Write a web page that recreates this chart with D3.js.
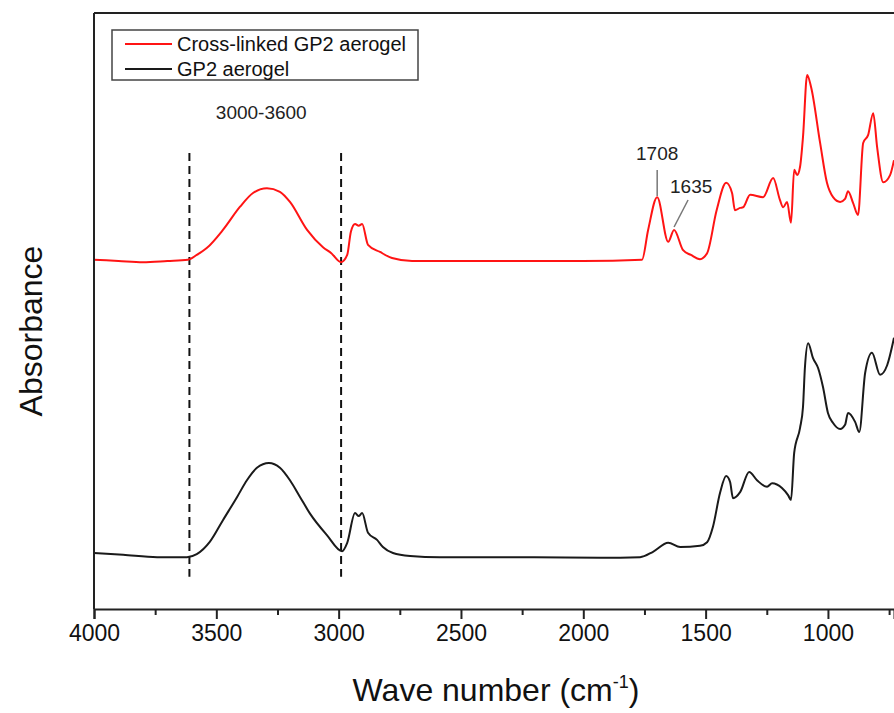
<!DOCTYPE html>
<html>
<head>
<meta charset="utf-8">
<script src="https://cdn.jsdelivr.net/npm/d3@7"></script>
<style>
  body { margin: 0; background: #fff; }
  svg { display: block; font-family: 'Liberation Sans', Arial, sans-serif; }
</style>
</head>
<body>
<div id="chart"></div>
<script>
// wavenumbers (cm-1) and absorbance (arbitrary, offset)
const crossWn = [4000, 3900, 3800, 3700, 3616, 3580, 3538, 3473, 3403, 3350, 3293, 3240, 3199, 3129, 3064, 3030, 2990, 2965, 2950, 2933, 2918, 2904, 2880, 2831, 2782, 2700, 2500, 2200, 2000, 1760, 1735, 1698, 1653, 1629, 1592, 1560, 1523, 1494, 1455, 1416, 1392, 1380, 1359, 1347, 1318, 1265, 1224, 1196, 1183, 1167, 1151, 1138, 1126, 1114, 1102, 1085, 1069, 1032, 1004, 979, 950, 930, 918, 897, 877, 856, 836, 815, 799, 774, 746, 730]
const crossAbs = [0.586, 0.584, 0.582, 0.584, 0.586, 0.594, 0.606, 0.636, 0.675, 0.698, 0.706, 0.700, 0.683, 0.636, 0.607, 0.597, 0.582, 0.594, 0.633, 0.646, 0.643, 0.646, 0.611, 0.599, 0.589, 0.584, 0.584, 0.584, 0.584, 0.586, 0.636, 0.691, 0.616, 0.636, 0.602, 0.594, 0.587, 0.597, 0.669, 0.715, 0.698, 0.669, 0.673, 0.674, 0.695, 0.691, 0.723, 0.686, 0.674, 0.683, 0.648, 0.737, 0.728, 0.742, 0.792, 0.896, 0.876, 0.782, 0.715, 0.691, 0.683, 0.688, 0.701, 0.681, 0.661, 0.782, 0.795, 0.832, 0.775, 0.716, 0.728, 0.753]

const plainWn = [4000, 3881, 3742, 3620, 3580, 3526, 3473, 3415, 3375, 3334, 3285, 3240, 3199, 3158, 3117, 3048, 2986, 2965, 2933, 2918, 2904, 2880, 2843, 2819, 2778, 2708, 2586, 2200, 1931, 1768, 1715, 1653, 1604, 1523, 1494, 1470, 1441, 1416, 1400, 1388, 1359, 1322, 1290, 1249, 1228, 1188, 1163, 1151, 1138, 1114, 1102, 1094, 1081, 1061, 1040, 1020, 1000, 979, 950, 930, 918, 889, 872, 848, 820, 787, 758, 730]
const plainAbs = [0.094, 0.091, 0.087, 0.087, 0.092, 0.113, 0.149, 0.188, 0.216, 0.237, 0.245, 0.237, 0.216, 0.188, 0.160, 0.124, 0.097, 0.111, 0.161, 0.156, 0.161, 0.128, 0.116, 0.104, 0.094, 0.089, 0.087, 0.087, 0.086, 0.087, 0.096, 0.111, 0.104, 0.106, 0.112, 0.138, 0.195, 0.223, 0.213, 0.186, 0.196, 0.230, 0.216, 0.205, 0.211, 0.203, 0.191, 0.183, 0.262, 0.304, 0.339, 0.406, 0.446, 0.421, 0.404, 0.372, 0.329, 0.312, 0.302, 0.309, 0.329, 0.314, 0.297, 0.396, 0.430, 0.393, 0.409, 0.455]

const seriesNames = ['Cross-linked GP2 aerogel', 'GP2 aerogel']
const seriesColors = ['#ff1414', '#1a1a1a']

const xTicks = [4000, 3500, 3000, 2500, 2000, 1500, 1000]
const xMinorTicks = [3750, 3250, 2750, 2250, 1750, 1250, 750]

const regionLines = [3610, 2990]
const regionLabel = '3000-3600'
const peakLabels = ['1708', '1635']
const peakWn = [1698, 1629]

const margin = { top: 13, right: 0, bottom: 104, left: 94 }
const width = 894 - margin.left - margin.right
const height = 713 - margin.top - margin.bottom

const svg = d3
  .select('#chart')
  .append('svg')
  .attr('width', 894)
  .attr('height', 713)

const g = svg
  .append('g')
  .attr('transform', `translate(${margin.left},${margin.top})`)

const xPositionScale = d3.scaleLinear().domain([4000, 730]).range([0, width])
const yPositionScale = d3.scaleLinear().domain([0, 1]).range([height, 0])

const line = d3
  .line()
  .x(d => xPositionScale(d[0]))
  .y(d => yPositionScale(d[1]))
  .curve(d3.curveMonotoneX)

const crossData = crossWn.map((w, i) => [w, crossAbs[i]])
const plainData = plainWn.map((w, i) => [w, plainAbs[i]])

// dashed guide lines
g.selectAll('.guide')
  .data(regionLines)
  .enter()
  .append('line')
  .attr('class', 'guide')
  .attr('x1', d => xPositionScale(d))
  .attr('x2', d => xPositionScale(d))
  .attr('y1', yPositionScale(0.765))
  .attr('y2', yPositionScale(0.054))
  .attr('stroke', '#111')
  .attr('stroke-width', 2)
  .attr('stroke-dasharray', '8,5')

g.append('text')
  .attr('x', xPositionScale(d3.mean(regionLines)) - 4)
  .attr('y', 106)
  .attr('text-anchor', 'middle')
  .attr('font-size', 19)
  .attr('fill', '#222')
  .text(regionLabel)

// spectra
g.append('path')
  .datum(plainData)
  .attr('d', line)
  .attr('fill', 'none')
  .attr('stroke', seriesColors[1])
  .attr('stroke-width', 2)

g.append('path')
  .datum(crossData)
  .attr('d', line)
  .attr('fill', 'none')
  .attr('stroke', seriesColors[0])
  .attr('stroke-width', 2)

// peak labels with leader lines
const px0 = xPositionScale(peakWn[0])
g.append('line')
  .attr('x1', px0).attr('x2', px0)
  .attr('y1', 157).attr('y2', 183)
  .attr('stroke', '#777').attr('stroke-width', 1.5)
g.append('text')
  .attr('x', px0).attr('y', 147)
  .attr('text-anchor', 'middle')
  .attr('font-size', 19).attr('fill', '#222')
  .text(peakLabels[0])

const px1 = xPositionScale(peakWn[1])
g.append('line')
  .attr('x1', px1 + 14).attr('x2', px1)
  .attr('y1', 187).attr('y2', 214)
  .attr('stroke', '#777').attr('stroke-width', 1.5)
g.append('text')
  .attr('x', px1 - 4).attr('y', 180)
  .attr('font-size', 19).attr('fill', '#222')
  .text(peakLabels[1])

// axes
const xAxis = d3
  .axisBottom(xPositionScale)
  .tickValues(xTicks)
  .tickSize(10)
  .tickPadding(6)
  .tickFormat(d3.format('d'))

g.append('g')
  .attr('class', 'axis x-axis')
  .attr('transform', `translate(0,${height})`)
  .call(xAxis)

g.append('g')
  .attr('class', 'axis x-minor')
  .attr('transform', `translate(0,${height})`)
  .call(d3.axisBottom(xPositionScale).tickValues(xMinorTicks).tickSize(6).tickFormat(''))

g.selectAll('.x-minor .domain').remove()
g.selectAll('.axis path, .axis line').attr('stroke', '#222').attr('stroke-width', 2)
g.selectAll('.x-axis text').attr('font-size', 23).attr('fill', '#111').attr('font-family', "'Liberation Sans', Arial, sans-serif")

// frame: left and top
g.append('line')
  .attr('x1', 0).attr('x2', 0)
  .attr('y1', 0).attr('y2', height)
  .attr('stroke', '#222').attr('stroke-width', 2)
g.append('line')
  .attr('x1', 0).attr('x2', width)
  .attr('y1', 0).attr('y2', 0)
  .attr('stroke', '#222').attr('stroke-width', 2)

// axis titles
const xTitle = g.append('text')
  .attr('x', width / 2 + 2)
  .attr('y', height + 92)
  .attr('text-anchor', 'middle')
  .attr('font-size', 32)
  .attr('fill', '#111')
xTitle.append('tspan').text('Wave number (cm')
xTitle.append('tspan').attr('font-size', 18).attr('dy', -13).text('-1')
xTitle.append('tspan').attr('dy', 13).text(')')

svg.append('text')
  .attr('transform', `translate(42,${margin.top + 318}) rotate(-90)`)
  .attr('text-anchor', 'middle')
  .attr('font-size', 32)
  .attr('fill', '#111')
  .text('Absorbance')

// legend
const legend = svg.append('g').attr('transform', 'translate(112,30)')
legend.append('rect')
  .attr('width', 306).attr('height', 50)
  .attr('fill', '#fff')
  .attr('stroke', '#444').attr('stroke-width', 1.5)

seriesNames.forEach((name, i) => {
  const row = legend.append('g').attr('transform', `translate(0,${14 + i * 25})`)
  row.append('line')
    .attr('x1', 13).attr('x2', 60)
    .attr('stroke', seriesColors[i]).attr('stroke-width', 2)
  row.append('text')
    .attr('x', 65).attr('y', 7)
    .attr('font-size', 20).attr('fill', '#111')
    .text(name)
})
</script>
</body>
</html>
